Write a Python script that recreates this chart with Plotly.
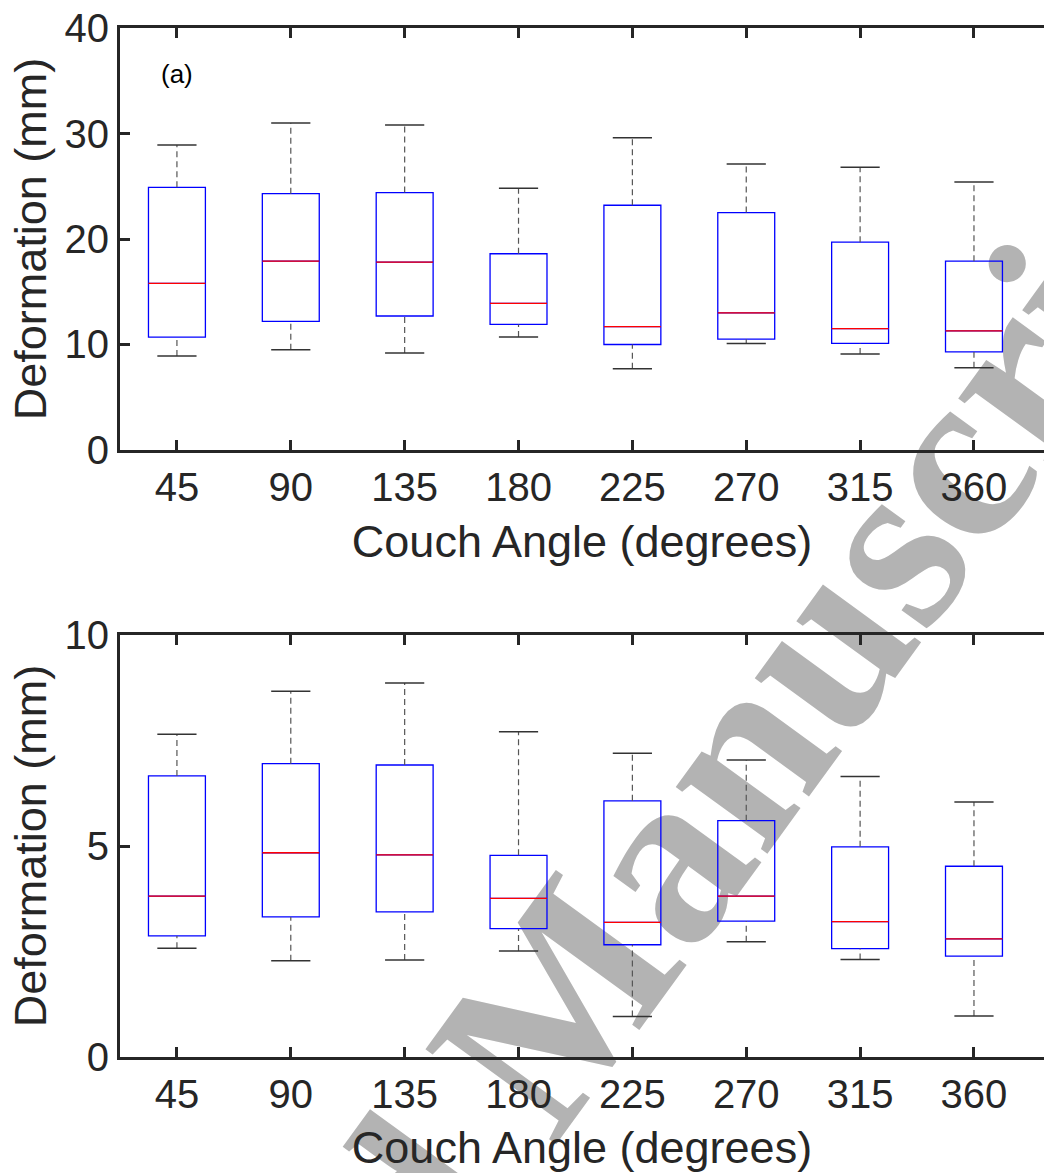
import plotly.graph_objects as go
from plotly.subplots import make_subplots

# ---------------- data ----------------
angles = [45, 90, 135, 180, 225, 270, 315, 360]
tick_labels = [str(a) for a in angles]

# panel (a)
a_lower = [8.9, 9.5, 9.2, 10.7, 7.7, 10.1, 9.1, 7.8]
a_q1 = [10.7, 12.2, 12.7, 11.9, 10.0, 10.5, 10.1, 9.3]
a_median = [15.8, 17.9, 17.8, 13.9, 11.7, 13.0, 11.5, 11.3]
a_q3 = [24.9, 24.3, 24.4, 18.6, 23.2, 22.5, 19.7, 17.9]
a_upper = [28.9, 31.0, 30.8, 24.8, 29.6, 27.1, 26.8, 25.4]

# panel (b)
b_lower = [2.58, 2.28, 2.30, 2.51, 0.96, 2.73, 2.31, 0.97]
b_q1 = [2.87, 3.32, 3.44, 3.04, 2.66, 3.22, 2.57, 2.39]
b_median = [3.81, 4.84, 4.79, 3.76, 3.19, 3.81, 3.21, 2.80]
b_q3 = [6.66, 6.95, 6.92, 4.78, 6.07, 5.60, 4.98, 4.52]
b_upper = [7.65, 8.67, 8.86, 7.71, 7.20, 7.04, 6.65, 6.04]

positions = list(range(1, len(angles) + 1))

AX = "#262626"
FONT = "Arial, Liberation Sans, sans-serif"

fig = make_subplots(rows=2, cols=1, vertical_spacing=0.0)


def add_panel(row, lower, q1, med, q3, upper):
    # dashed whiskers
    wx, wy = [], []
    for p, lo, a, b, hi in zip(positions, lower, q1, q3, upper):
        wx += [p, p, None, p, p, None]
        wy += [b, hi, None, lo, a, None]
    fig.add_trace(go.Scatter(x=wx, y=wy, mode="lines",
                             line=dict(color="#555555", width=1.2, dash="6px,4px"),
                             showlegend=False, hoverinfo="skip"), row=row, col=1)
    # whisker caps
    fig.add_trace(go.Scatter(x=positions + positions, y=upper + lower, mode="markers",
                             marker=dict(symbol="line-ew", size=28,
                                         line=dict(color="#333333", width=1.5)),
                             showlegend=False, hoverinfo="skip"), row=row, col=1)
    # blue boxes
    fig.add_trace(go.Box(x=positions, q1=q1, median=med, q3=q3,
                         lowerfence=q1, upperfence=q3, width=0.5,
                         line=dict(color="#0000ff", width=1.3),
                         fillcolor="rgba(0,0,0,0)", boxpoints=False,
                         whiskerwidth=0, showlegend=False), row=row, col=1)
    # red medians
    fig.add_trace(go.Box(x=positions, q1=med, median=med, q3=med,
                         lowerfence=med, upperfence=med, width=0.5,
                         line=dict(color="#ff0000", width=1.3),
                         fillcolor="rgba(0,0,0,0)", boxpoints=False,
                         whiskerwidth=0, showlegend=False), row=row, col=1)


add_panel(1, a_lower, a_q1, a_median, a_q3, a_upper)
add_panel(2, b_lower, b_q1, b_median, b_q3, b_upper)

xcommon = dict(range=[0.5, 8.615], tickvals=positions, ticktext=tick_labels,
               ticks="inside", ticklen=10, tickwidth=3, tickcolor=AX,
               showline=True, linewidth=3, linecolor=AX, mirror="ticks",
               showgrid=False, zeroline=False, automargin=False,
               tickfont=dict(family=FONT, size=40, color=AX),
               title=dict(text="Couch Angle (degrees)", standoff=18,
                          font=dict(family=FONT, size=45, color=AX)))
ycommon = dict(ticks="inside", ticklen=10, tickwidth=3, tickcolor=AX,
               showline=True, linewidth=3, linecolor=AX, mirror=False,
               showgrid=False, zeroline=False, automargin=False,
               tickfont=dict(family=FONT, size=40, color=AX),
               title=dict(text="Deformation (mm)", standoff=4,
                          font=dict(family=FONT, size=45, color=AX)))

fig.update_xaxes(**xcommon)
fig.update_yaxes(**ycommon)
fig.update_yaxes(range=[0, 40], tickvals=[0, 10, 20, 30, 40], row=1, col=1)
fig.update_yaxes(range=[0, 10], tickvals=[0, 5, 10], row=2, col=1)

fig.update_layout(
    width=1044, height=1173,
    margin=dict(l=120, r=0, t=28, b=116, autoexpand=False),
    paper_bgcolor="white", plot_bgcolor="white",
    boxmode="overlay",
    xaxis=dict(domain=[0, 1]),
    yaxis=dict(domain=[0.5899, 1.0]),
    xaxis2=dict(domain=[0, 1]),
    yaxis2=dict(domain=[0.0, 0.4101]),
    annotations=[dict(text="(a)", x=1, y=35.6, xref="x", yref="y",
                      showarrow=False, font=dict(family=FONT, size=26, color="black"))],
    shapes=[dict(type="line", xref="paper", yref="paper",
                 x0=0.4162, y0=0.0334, x1=0.4562, y1=0.0734, layer="below",
                 line=dict(color="rgba(0,0,0,0)", width=1),
                 label=dict(text="Accepted Manuscript", textangle=-54,
                            textposition="middle", xanchor="center", yanchor="middle",
                            font=dict(family="Liberation Serif, Times New Roman, serif",
                                      size=247, color="#b3b3b3", weight="bold")))],
)

fig.write_html("out.html",
               config={"displayModeBar": False},
               post_script="document.body.style.margin='0';"
                           "document.documentElement.style.overflow='hidden';")
